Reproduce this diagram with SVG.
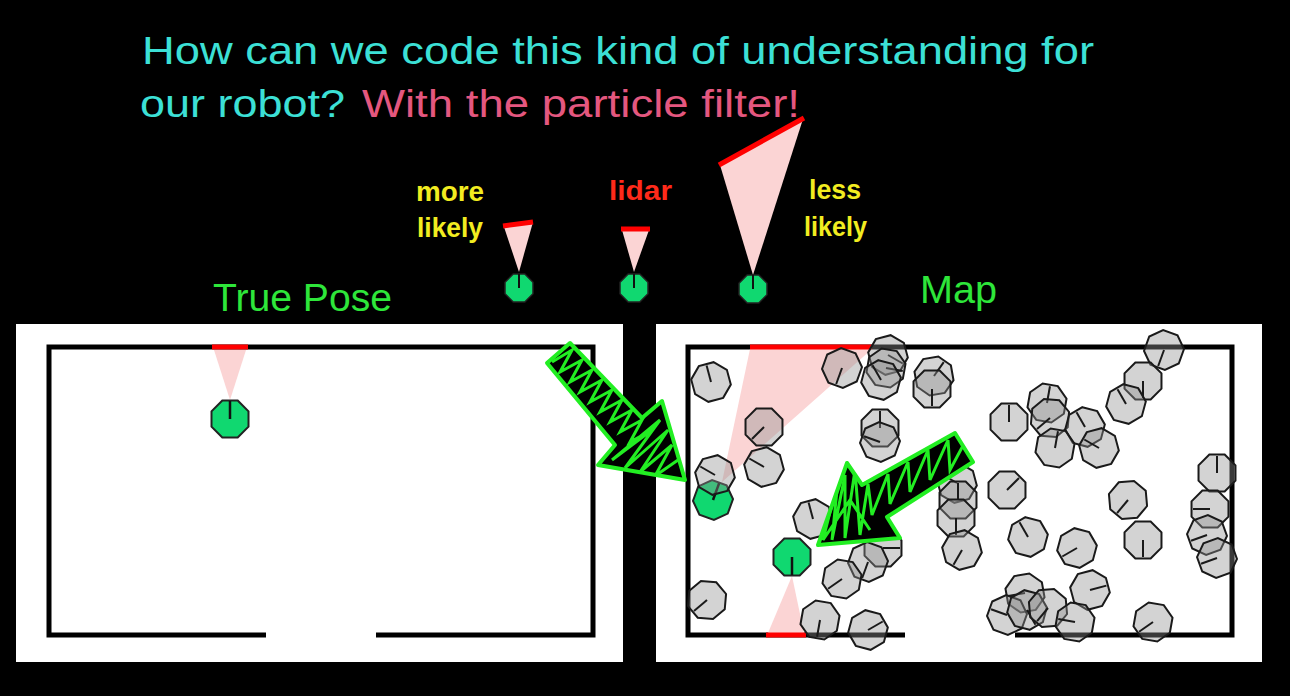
<svg xmlns="http://www.w3.org/2000/svg" xmlns:xlink="http://www.w3.org/1999/xlink" width="1290" height="696" viewBox="0 0 1290 696">
<style>
.title{font-family:"Liberation Sans","DejaVu Sans",sans-serif;font-size:38px;fill:#3ce0d6}
.pink{fill:#e4577f}
.lbl{font-family:"Liberation Sans","DejaVu Sans",sans-serif;font-size:27px;font-weight:bold}
.yel{fill:#f2ec20}
.red{fill:#ff2a1a}
.grn{fill:#2ee63a;font-size:38px;font-weight:normal}
.wall{stroke:#000;stroke-width:5;fill:none}
.redw{stroke:#ff0000;stroke-width:5}
.cone{fill:#fbd4d4}
.arrow{fill:#000;stroke:#22ee22;stroke-width:4;stroke-linejoin:round}
.scrib{fill:none;stroke:#22ee22;stroke-width:3}
</style>
<defs>
<symbol id="oct" overflow="visible">
<polygon points="7.65,-18.48 18.48,-7.65 18.48,7.65 7.65,18.48 -7.65,18.48 -18.48,7.65 -18.48,-7.65 -7.65,-18.48" fill="#909090" fill-opacity="0.4" stroke="#1a1a1a" stroke-width="2"/>
<line x1="0" y1="0" x2="0" y2="-17" stroke="#1a1a1a" stroke-width="2"/>
</symbol>
<symbol id="bot" overflow="visible">
<polygon points="7.7,-18.5 18.5,-7.7 18.5,7.7 7.7,18.5 -7.7,18.5 -18.5,7.7 -18.5,-7.7 -7.7,-18.5" fill="#10d870" stroke="#222" stroke-width="2"/>
<line x1="0" y1="0" x2="0" y2="-18" stroke="#111" stroke-width="2.5"/>
</symbol>
<symbol id="botS" overflow="visible">
<polygon points="5.8,-14 14,-5.8 14,5.8 5.8,14 -5.8,14 -14,5.8 -14,-5.8 -5.8,-14" fill="#10d870" stroke="#222" stroke-width="1.5"/>
<line x1="0" y1="0" x2="0" y2="-14" stroke="#111" stroke-width="2"/>
</symbol>
<clipPath id="a1c"><polygon points="570,343 642,418 662,401 685,480 598,465 615,445 547,363"/></clipPath>
<clipPath id="a2c"><polygon points="955,433 973,462 887,517 900,538 818,545 847,463 862,485"/></clipPath>
</defs>
<rect width="1290" height="696" fill="#000"/>

<g id="title">
<text class="title" x="142" y="64" textLength="952" lengthAdjust="spacingAndGlyphs">How can we code this kind of understanding for</text>
<text class="title" x="140" y="117" textLength="205" lengthAdjust="spacingAndGlyphs">our robot?</text>
<text class="title pink" x="362" y="117" textLength="438" lengthAdjust="spacingAndGlyphs">With the particle filter!</text>
</g>

<g id="legend">
<g id="more-likely">
<text class="lbl yel" x="416" y="201" textLength="68" lengthAdjust="spacingAndGlyphs">more</text>
<text class="lbl yel" x="417" y="237" textLength="66" lengthAdjust="spacingAndGlyphs">likely</text>
<polygon class="cone" points="504,227 533,222 519,272"/>
<line class="redw" x1="503" y1="226" x2="533" y2="222" stroke-width="4"/>
<use xlink:href="#botS" x="519" y="288"/>
</g>
<g id="lidar">
<text class="lbl red" x="609" y="200" textLength="63" lengthAdjust="spacingAndGlyphs">lidar</text>
<polygon class="cone" points="622,230 649,230 634,272"/>
<line class="redw" x1="621" y1="229" x2="650" y2="229" stroke-width="4"/>
<use xlink:href="#botS" x="634" y="288"/>
</g>
<g id="less-likely">
<text class="lbl yel" x="809" y="199" textLength="52" lengthAdjust="spacingAndGlyphs">less</text>
<text class="lbl yel" x="804" y="236" textLength="63" lengthAdjust="spacingAndGlyphs">likely</text>
<polygon class="cone" points="720,165 803,119 753,275"/>
<line class="redw" x1="719" y1="165" x2="804" y2="118" stroke-width="4"/>
<use xlink:href="#botS" x="753" y="289"/>
</g>
</g>

<g id="true-pose">
<text class="lbl grn" x="213" y="311" textLength="179" lengthAdjust="spacingAndGlyphs">True Pose</text>
<rect x="16" y="324" width="607" height="338" fill="#fff"/>
<path class="wall" d="M266,635 H49 V347 H593 V635 H376"/>
<line class="redw" x1="212" y1="347" x2="248" y2="347" stroke-width="6"/>
<polygon class="cone" points="214,350 246,350 230,400"/>
<use xlink:href="#bot" x="230" y="419"/>
</g>

<g id="map">
<text class="lbl grn" x="920" y="303" textLength="77" lengthAdjust="spacingAndGlyphs">Map</text>
<rect x="656" y="324" width="606" height="338" fill="#fff"/>
<path class="wall" d="M905,635 H688 V347 H1232 V635 H1015"/>
<polygon class="cone" points="750,349 872,349 722,482"/>
<line class="redw" x1="750" y1="347" x2="872" y2="347" stroke-width="6"/>
<polygon class="cone" points="768,633 804,633 792,576"/>
<line class="redw" x1="766" y1="635" x2="806" y2="635" stroke-width="6"/>
<use xlink:href="#bot" x="713" y="500" transform="rotate(20 713 500)"/>
<use xlink:href="#bot" x="792" y="557" transform="rotate(180 792 557)"/>
<g id="particles">
<use xlink:href="#oct" x="711" y="382" transform="rotate(-15 711 382)"/>
<use xlink:href="#oct" x="842" y="368" transform="rotate(200 842 368)"/>
<use xlink:href="#oct" x="888" y="355" transform="rotate(120 888 355)"/>
<use xlink:href="#oct" x="886" y="368" transform="rotate(100 886 368)"/>
<use xlink:href="#oct" x="881" y="380" transform="rotate(-30 881 380)"/>
<use xlink:href="#oct" x="934" y="376" transform="rotate(35 934 376)"/>
<use xlink:href="#oct" x="932" y="389" transform="rotate(180 932 389)"/>
<use xlink:href="#oct" x="764" y="427" transform="rotate(225 764 427)"/>
<use xlink:href="#oct" x="764" y="467" transform="rotate(-60 764 467)"/>
<use xlink:href="#oct" x="715" y="475" transform="rotate(-60 715 475)"/>
<use xlink:href="#oct" x="880" y="428" transform="rotate(0 880 428)"/>
<use xlink:href="#oct" x="880" y="442" transform="rotate(-70 880 442)"/>
<use xlink:href="#oct" x="1164" y="350" transform="rotate(200 1164 350)"/>
<use xlink:href="#oct" x="1143" y="381" transform="rotate(180 1143 381)"/>
<use xlink:href="#oct" x="1126" y="404" transform="rotate(-30 1126 404)"/>
<use xlink:href="#oct" x="1009" y="422" transform="rotate(0 1009 422)"/>
<use xlink:href="#oct" x="1047" y="403" transform="rotate(10 1047 403)"/>
<use xlink:href="#oct" x="1050" y="418" transform="rotate(-130 1050 418)"/>
<use xlink:href="#oct" x="1085" y="427" transform="rotate(-30 1085 427)"/>
<use xlink:href="#oct" x="1055" y="448" transform="rotate(10 1055 448)"/>
<use xlink:href="#oct" x="1099" y="448" transform="rotate(-60 1099 448)"/>
<use xlink:href="#oct" x="1007" y="490" transform="rotate(45 1007 490)"/>
<use xlink:href="#oct" x="1128" y="500" transform="rotate(220 1128 500)"/>
<use xlink:href="#oct" x="1217" y="473" transform="rotate(0 1217 473)"/>
<use xlink:href="#oct" x="1210" y="509" transform="rotate(-90 1210 509)"/>
<use xlink:href="#oct" x="1207" y="535" transform="rotate(-110 1207 535)"/>
<use xlink:href="#oct" x="1217" y="558" transform="rotate(250 1217 558)"/>
<use xlink:href="#oct" x="957" y="483" transform="rotate(-60 957 483)"/>
<use xlink:href="#oct" x="958" y="500" transform="rotate(0 958 500)"/>
<use xlink:href="#oct" x="956" y="518" transform="rotate(180 956 518)"/>
<use xlink:href="#oct" x="962" y="550" transform="rotate(210 962 550)"/>
<use xlink:href="#oct" x="813" y="519" transform="rotate(-15 813 519)"/>
<use xlink:href="#oct" x="883" y="548" transform="rotate(90 883 548)"/>
<use xlink:href="#oct" x="868" y="562" transform="rotate(200 868 562)"/>
<use xlink:href="#oct" x="842" y="579" transform="rotate(235 842 579)"/>
<use xlink:href="#oct" x="707" y="600" transform="rotate(230 707 600)"/>
<use xlink:href="#oct" x="820" y="620" transform="rotate(190 820 620)"/>
<use xlink:href="#oct" x="868" y="630" transform="rotate(60 868 630)"/>
<use xlink:href="#oct" x="1028" y="537" transform="rotate(-30 1028 537)"/>
<use xlink:href="#oct" x="1077" y="548" transform="rotate(240 1077 548)"/>
<use xlink:href="#oct" x="1143" y="540" transform="rotate(180 1143 540)"/>
<use xlink:href="#oct" x="1090" y="590" transform="rotate(75 1090 590)"/>
<use xlink:href="#oct" x="1025" y="593" transform="rotate(-100 1025 593)"/>
<use xlink:href="#oct" x="1007" y="615" transform="rotate(-70 1007 615)"/>
<use xlink:href="#oct" x="1027" y="610" transform="rotate(150 1027 610)"/>
<use xlink:href="#oct" x="1048" y="608" transform="rotate(220 1048 608)"/>
<use xlink:href="#oct" x="1075" y="622" transform="rotate(-80 1075 622)"/>
<use xlink:href="#oct" x="1153" y="622" transform="rotate(235 1153 622)"/>
</g>
</g>

<g id="arrows">
<g id="arrow-1">
<polygon class="arrow" points="570,343 642,418 662,401 685,480 598,465 615,445 547,363"/>
<path class="scrib" clip-path="url(#a1c)" d="M552,362 L572,350 L560,372 L582,360 L570,382 L592,370 L580,392 L602,380 L590,402 L612,390 L600,412 L622,400 L610,422 L632,410 L620,432 L642,420 L630,442 L652,430 L612,460 L660,420 L625,468 L668,430 L640,472 L672,445 L655,476 L678,460"/>
</g>
<g id="arrow-2">
<polygon class="arrow" points="955,433 973,462 887,517 900,538 818,545 847,463 862,485"/>
<path class="scrib" clip-path="url(#a2c)" d="M966,440 L950,470 L948,440 L930,480 L928,450 L910,492 L908,462 L890,504 L888,474 L872,515 L868,484 L860,535 L855,470 L845,538 L845,475 L832,540 L838,480 L823,540 L850,500 L870,530"/>
</g>
</g>
</svg>
